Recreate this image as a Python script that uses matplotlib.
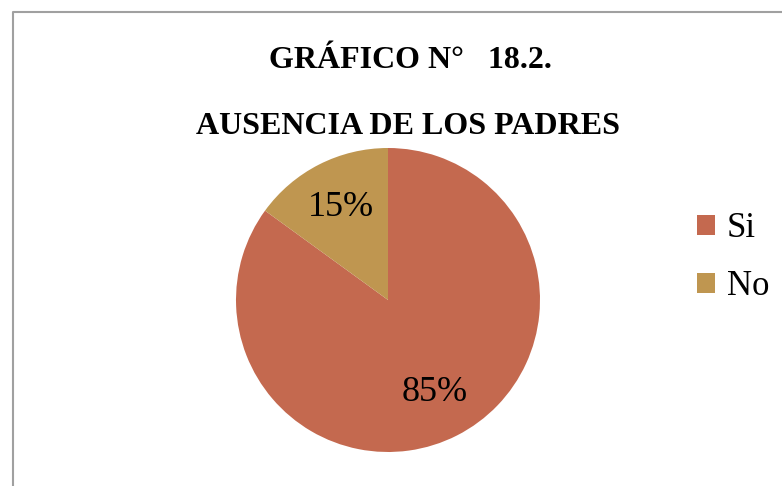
import matplotlib.pyplot as plt
from matplotlib.lines import Line2D
from matplotlib.patches import Patch

# datos
categorias = ['Si', 'No']
valores = [85, 15]
colores = ['#C4694F', '#BF9650']
titulo = 'GRÁFICO N°   18.2.'
subtitulo = 'AUSENCIA DE LOS PADRES'

plt.rcParams['font.family'] = ['Liberation Serif', 'DejaVu Serif']

W, H = 782, 486
fig = plt.figure(figsize=(W / 100, H / 100), dpi=100)

# pie: center (388, 300) px, radius 152 px
cx, cy, r = 388, 300, 152
ax = fig.add_axes([(cx - r) / W, (H - cy - r) / H, 2 * r / W, 2 * r / H])
ax.pie(valores, colors=colores, startangle=90, counterclock=False,
       autopct='%1.0f%%', pctdistance=0.68,
       textprops={'fontsize': 26, 'color': 'black'})
ax.set_xlim(-1, 1)
ax.set_ylim(-1, 1)
ax.set_aspect('equal')
ax.axis('off')

# titulos
fig.text(410 / W, 1 - 61 / H, titulo, ha='center', va='center',
         fontsize=23, fontweight='bold')
fig.text(408 / W, 1 - 126 / H, subtitulo, ha='center', va='center',
         fontsize=23, fontweight='bold')

# leyenda
handles = [Patch(facecolor=c, edgecolor='none') for c in colores]
fig.legend(handles, categorias, loc='upper left',
           bbox_to_anchor=(680 / W, 1 - 195 / H), frameon=False,
           fontsize=25, handlelength=0.5, handleheight=0.5,
           handletextpad=0.35, labelspacing=0.72, borderpad=0)

# borde del area del grafico
bx = 12.5 / W
by = 1 - 12.5 / H
fig.add_artist(Line2D([bx, bx, 1], [0, by, by], transform=fig.transFigure,
                      color='#A0A0A0', lw=1.5))

fig.savefig('out.png', dpi=100)
